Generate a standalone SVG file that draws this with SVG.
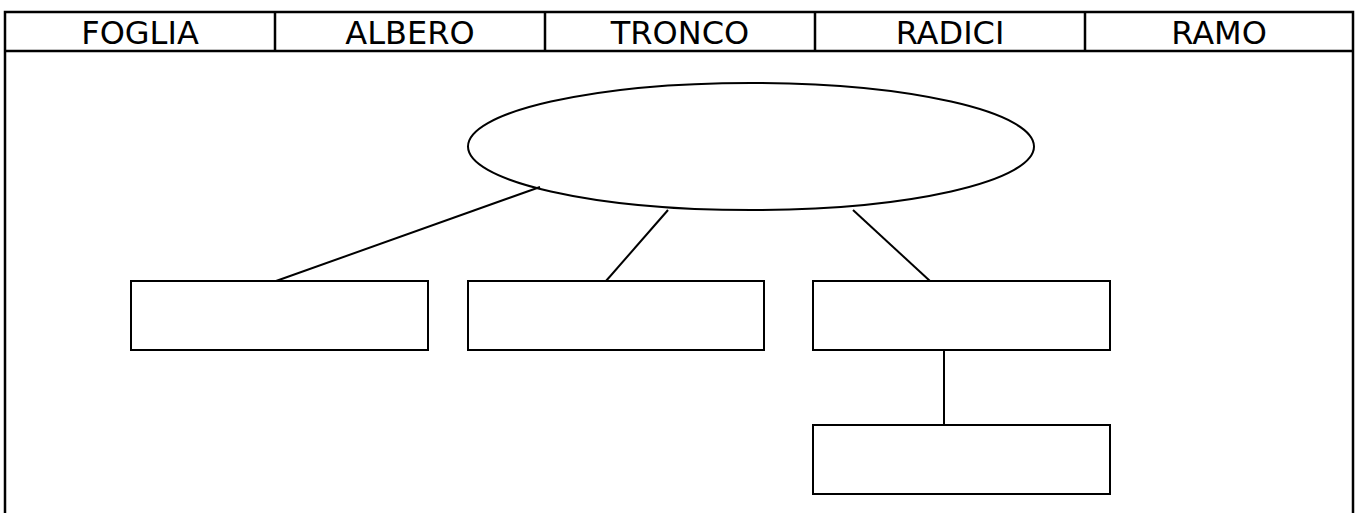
<svg xmlns="http://www.w3.org/2000/svg" width="1357" height="513" viewBox="0 0 1357 513">
<style>
.frame{fill:none;stroke:#000;stroke-width:2.5}
.node{fill:#fff;stroke:#000;stroke-width:2}
.conn{stroke:#000;stroke-width:2;fill:none}
.hdr{font-family:"DejaVu Sans",Verdana,sans-serif;font-size:32px;fill:#000;text-anchor:middle}
</style>
<rect width="1357" height="513" fill="#fff"/>
<g id="header">
<path class="frame" d="M5,530 V12 H1353 V530 M5,51 H1353 M275,12 V51 M545,12 V51 M815,12 V51 M1085,12 V51"/>
<text class="hdr" x="140" y="44">FOGLIA</text>
<text class="hdr" x="410" y="44">ALBERO</text>
<text class="hdr" x="680" y="44">TRONCO</text>
<text class="hdr" x="950" y="44">RADICI</text>
<text class="hdr" x="1219" y="44">RAMO</text>
</g>
<g id="connectors">
<line class="conn" x1="540" y1="187" x2="276" y2="281"/>
<line class="conn" x1="668" y1="210" x2="606" y2="281"/>
<line class="conn" x1="853" y1="210" x2="930" y2="281"/>
<line class="conn" x1="944" y1="350" x2="944" y2="425"/>
</g>
<g id="root"><ellipse class="node" cx="751" cy="146.5" rx="283" ry="63.5" style="fill:none"/></g>
<g id="box1"><rect class="node" x="131" y="281" width="297" height="69"/></g>
<g id="box2"><rect class="node" x="468" y="281" width="296" height="69"/></g>
<g id="box3"><rect class="node" x="813" y="281" width="297" height="69"/></g>
<g id="box4"><rect class="node" x="813" y="425" width="297" height="69"/></g>
</svg>
